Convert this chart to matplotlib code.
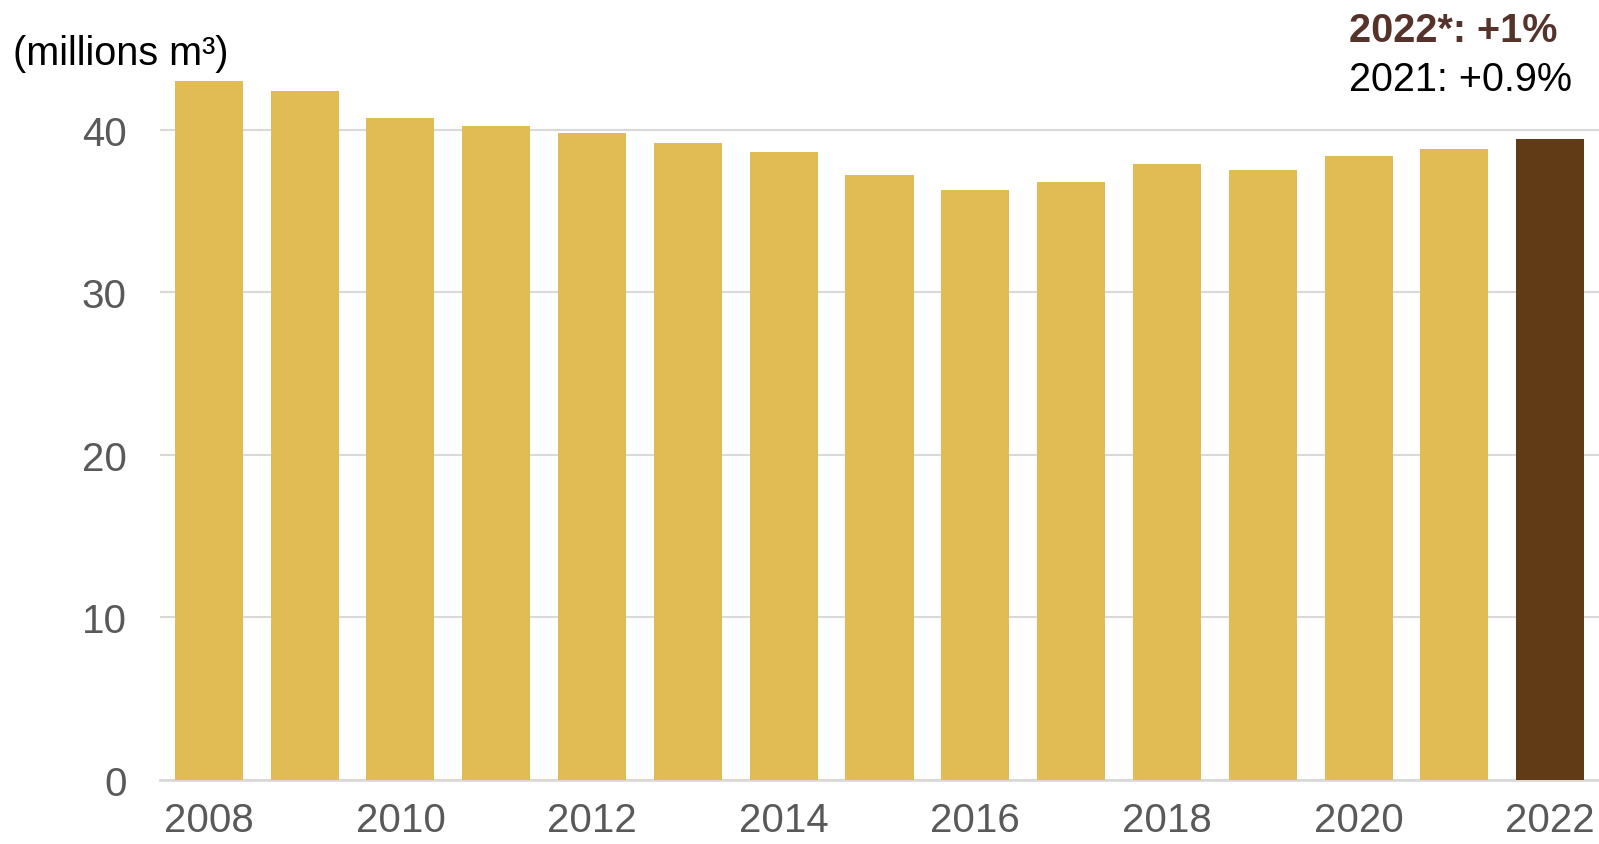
import matplotlib
matplotlib.use("Agg")
import matplotlib.pyplot as plt

years = list(range(2008, 2023))
values = [43.0, 42.4, 40.7, 40.2, 39.8, 39.2, 38.6, 37.2, 36.3, 36.8, 37.9, 37.5, 38.4, 38.8, 39.4]
highlight_year = 2022
tick_years = [2008, 2010, 2012, 2014, 2016, 2018, 2020, 2022]
y_ticks = [0, 10, 20, 30, 40]
unit_label = "(millions m³)"
note_main = "2022*: +1%"
note_prev = "2021: +0.9%"

gold = "#E1BC55"
brown = "#613A16"
grey_text = "#595959"
grid_col = "#D9D9D9"

plt.rcParams['font.family'] = ['Liberation Sans', 'DejaVu Sans']

W, H = 1599, 845
fig = plt.figure(figsize=(W / 100, H / 100), dpi=100)
left_px, right_px, bottom_px = 160, 1599, 781
ymax = 45.0
px_per_unit = 16.26
top_px = bottom_px - ymax * px_per_unit
ax = fig.add_axes([left_px / W, 1 - bottom_px / H, (right_px - left_px) / W, (bottom_px - top_px) / H])

colors = [brown if y == highlight_year else gold for y in years]
ax.bar(years, values, width=0.71, color=colors, zorder=3)

ax.set_xlim(2007.49, 2022.51)
ax.set_ylim(0, ymax)
ax.set_yticks(y_ticks)
ax.set_xticks(tick_years)
ax.set_xticklabels([str(y) for y in tick_years])
ax.yaxis.grid(True, color=grid_col, linewidth=1.5, zorder=0)
ax.set_axisbelow(True)
for s in ["top", "right", "left"]:
    ax.spines[s].set_visible(False)
ax.spines["bottom"].set_color(grid_col)
ax.spines["bottom"].set_linewidth(2)
ax.tick_params(axis="both", length=0, labelsize=29, labelcolor=grey_text)
ax.tick_params(axis="y", pad=24)
ax.tick_params(axis="x", pad=15)

fig.text(13 / W, 1 - 65 / H, unit_label, fontsize=28.5, color="black", ha="left", va="baseline")
fig.text(1349 / W, 1 - 42 / H, note_main, fontsize=28.5, color="#56332A", fontweight="bold", ha="left", va="baseline")
fig.text(1349 / W, 1 - 91 / H, note_prev, fontsize=28.5, color="black", ha="left", va="baseline")

fig.savefig("out.png", dpi=100)
